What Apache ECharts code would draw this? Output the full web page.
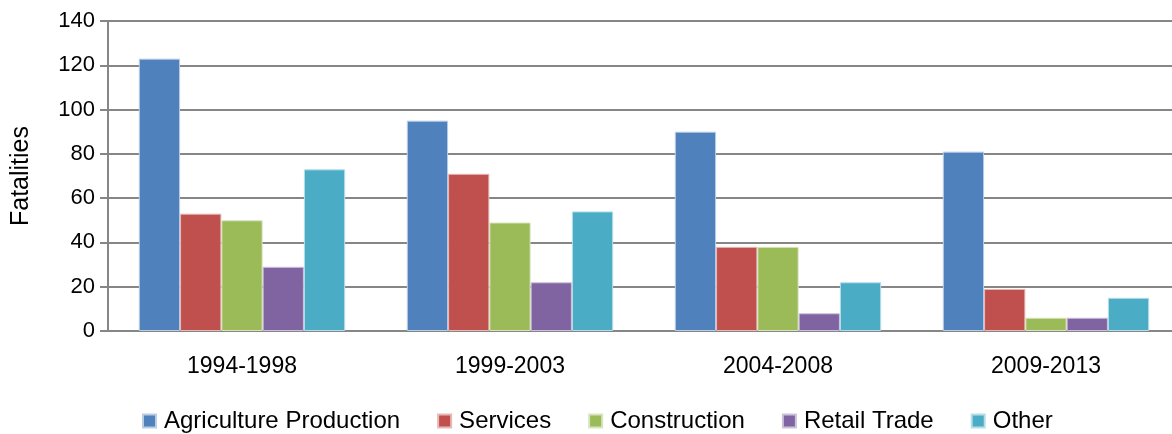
<!DOCTYPE html>
<html>
<head>
<meta charset="utf-8">
<script src="https://cdn.jsdelivr.net/npm/echarts@6/dist/echarts.min.js"></script>
<style>
  html, body { margin: 0; padding: 0; background: #fff; }
  #main { width: 1172px; height: 434px; }
</style>
</head>
<body>
<div id="main"></div>
<script>
var periods = ["1994-1998", "1999-2003", "2004-2008", "2009-2013"];
var agriculture = [123, 95, 90, 81];
var services = [53, 71, 38, 19];
var construction = [50, 49, 38, 6];
var retail = [29, 22, 8, 6];
var other = [73, 54, 22, 15];
var yTicks = [0, 20, 40, 60, 80, 100, 120, 140];

var chart = echarts.init(document.getElementById("main"));
var font = "Liberation Sans";
var colors = ["#4f81bd", "#c0504d", "#9bbb59", "#8064a2", "#4bacc6"];
var borders = ["#b9cde5", "#e6b9b8", "#d7e4bd", "#ccc1da", "#b7dde8"];

function bar(name, data, i) {
  return {
    name: name,
    type: "bar",
    data: data,
    barGap: "0%",
    barCategoryGap: "23%",
    itemStyle: { color: colors[i], borderColor: borders[i], borderWidth: 1 }
  };
}

var option = {
  animation: false,
  color: colors,
  grid: { left: 108, right: -8, top: 21, bottom: 103, outerBoundsMode: "none", containLabel: false },
  legend: {
    bottom: -4,
    left: 137,
    itemWidth: 13,
    itemHeight: 13,
    itemGap: 37,
    icon: "rect",
    textStyle: { fontFamily: font, fontSize: 24, color: "#000", padding: [0, 0, 0, 3] },
    data: ["Agriculture Production", "Services", "Construction", "Retail Trade", "Other"]
  },
  xAxis: {
    type: "category",
    data: periods,
    axisTick: { show: false },
    axisLine: { lineStyle: { color: "#868686", width: 2 } },
    axisLabel: { fontFamily: font, fontSize: 23, color: "#000", margin: 24 }
  },
  yAxis: {
    type: "value",
    min: yTicks[0],
    max: yTicks[yTicks.length - 1],
    interval: 20,
    name: "Fatalities",
    nameLocation: "middle",
    nameGap: 74,
    nameTextStyle: { fontFamily: font, fontSize: 25, color: "#000" },
    axisLine: { show: true, lineStyle: { color: "#868686", width: 2 } },
    axisTick: { show: true, length: 8, lineStyle: { color: "#868686", width: 2 } },
    axisLabel: { fontFamily: font, fontSize: 22, color: "#000", margin: 13 },
    splitLine: { lineStyle: { color: "#868686", width: 2 } }
  },
  series: [
    bar("Agriculture Production", agriculture, 0),
    bar("Services", services, 1),
    bar("Construction", construction, 2),
    bar("Retail Trade", retail, 3),
    bar("Other", other, 4)
  ]
};

chart.setOption(option);
</script>
</body>
</html>
